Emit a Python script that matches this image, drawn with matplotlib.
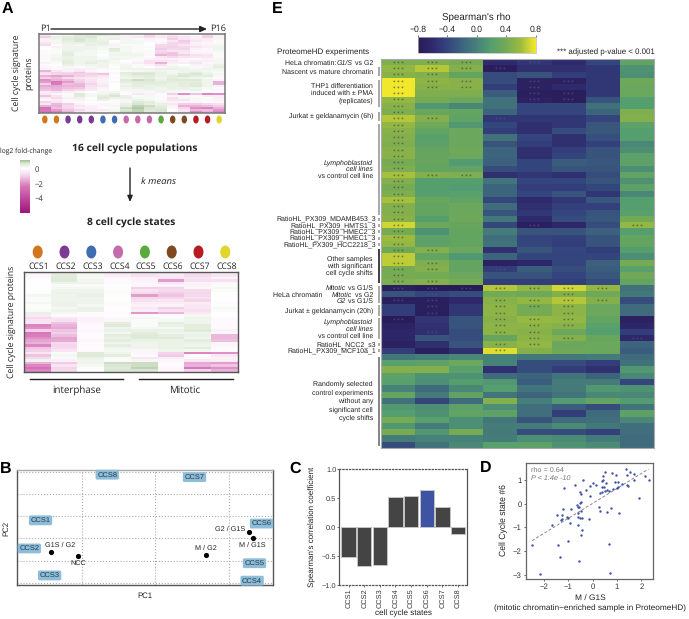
import numpy as np
import matplotlib
matplotlib.use("Agg")
import matplotlib.pyplot as plt
from matplotlib.colors import LinearSegmentedColormap, Normalize, TwoSlopeNorm
from matplotlib.cm import ScalarMappable
from matplotlib.patches import Ellipse, Rectangle

W, H = 689, 619
plt.rcParams['font.family'] = ['Liberation Sans', 'DejaVu Sans']
plt.rcParams['axes.unicode_minus'] = True
plt.rcParams['text.hinting'] = 'no_hinting'

# ---------- Panel A data ----------
population_states = ["CCS1","CCS1","CCS2","CCS2","CCS2","CCS3","CCS3","CCS4","CCS4","CCS4","CCS5","CCS6","CCS6","CCS7","CCS7","CCS8"]
state_names = ["CCS1","CCS2","CCS3","CCS4","CCS5","CCS6","CCS7","CCS8"]
state_colors = ["#d2761f","#7b3a93","#3f6db3","#c56aab","#5aaa3e","#7f4a1f","#b81b24","#e0d62c"]
populations_fc = [
[-.5,.1,.3,.6,.6,.6,.5,-.2,-.2,-.9,-.3,-.6,-.3,-.1,-.9,-.4],
[-1.0,.4,.5,.6,.7,.3,.3,-.4,-.6,-.8,-.5,-.8,-.5,-.3,-1.0,-.3],
[-.3,.3,.6,.7,.5,.3,.4,.2,.1,-.3,-.2,-1.0,-.6,-.4,-.4,.2],
[-.3,.2,.5,.7,.5,.4,.0,.2,.2,-.2,-.1,-.5,-1.1,-.6,-.4,-.1],
[-.6,-.3,.4,.4,.4,.5,.1,.2,.2,.0,-.3,-.8,-.9,-.3,-.2,.1],
[-.8,.1,.3,.2,.4,.4,-.3,.1,.1,.0,-.8,-.9,-.6,-.4,-.3,.2],
[0,-.3,.3,.3,.3,.2,.2,.2,.1,.1,-.9,-1.0,-.8,-.6,-.4,.3],
[0,.1,.3,.3,.3,.2,.6,.2,.1,.0,-1.1,-.8,-.9,-.3,-.2,.3],
[-.1,.1,.4,.3,.2,.1,.5,.2,.1,.1,-.8,-.6,-.6,-.2,-.2,.2],
[-.1,.1,.5,.2,.2,.1,.2,.3,.2,.1,-1.0,-1.2,-.5,-.3,-.3,.1],
[-.1,.2,.5,.2,.2,0,.3,.3,.3,-.2,-1.5,-1.2,-1.0,-.7,-.6,.1],
[.1,.2,.4,.3,.3,.1,.2,.2,.2,-.1,-.5,-.8,-.6,-.5,-.5,.1],
[.1,.3,.4,.3,.3,.2,.3,.2,.1,-.3,-.4,-.3,-.2,-.1,-.3,.2],
[-.1,.2,.5,.3,.4,.4,.2,0,-.2,-.7,-.6,-.5,-.2,-.4,-.4,.2],
[-.3,.1,.5,.3,.5,.3,.2,.1,-.4,-.7,-1.5,-.4,-.4,-.6,-.2,.2],
[-.1,0,.4,.2,.3,.3,.1,.2,-.1,-.3,-.7,-.2,0,-.3,-.3,.4],
[-.2,.1,.2,-.1,.2,.3,0,.3,.1,0,-.2,.3,.2,.1,.2,.5],
[-.3,-.1,-.3,-.4,-.3,-.2,.1,.3,.3,.3,.4,.4,.3,.2,.3,.3],
[-1.5,-.6,-.3,-.6,-.2,-.1,.0,.1,.2,.3,.3,.2,.3,.3,.2,.2],
[-.8,-1.0,-.8,-1.2,-.6,-.3,.1,.5,.6,.6,.4,.2,.3,.5,.3,.1],
[-.6,-.9,-1.0,-1.0,-1.0,-1.2,-.1,.5,.7,.7,.4,.3,.6,.7,.4,.2],
[-1.5,-1.7,-1.5,-1.0,-.8,-.6,0,.4,.5,.6,.4,.5,.7,.5,.5,-.2],
[-1.0,-1.3,-.8,-.6,-.5,-.4,-.1,.3,.4,.5,.3,.5,.4,.3,.2,-.1],
[-2.0,-1.5,-1.4,-.9,-.6,-.3,0,.6,.8,.7,.4,.6,.6,.6,.3,-.3],
[-1.8,-2.4,-1.8,-1.1,-.7,-.3,.1,.5,.6,.6,.5,.5,.5,.5,.3,-1.5],
[-1.0,-2.3,-1.3,-1.4,-.9,-.4,.0,.3,.5,.5,.5,.4,.5,.6,.3,-1.5],
[-1.6,-1.6,-1.5,-1.5,-.7,-.5,0,.4,.5,.4,.4,.4,.5,.6,.3,-.3],
[-1.4,-1.5,-1.3,-1.2,-.6,-.3,0,.3,.4,.4,.3,.4,.4,.3,.2,-.1],
[-1.2,-1.4,-1.0,-.8,-.5,-.2,0,.2,.2,.3,.3,.3,.3,.4,.1,-.2],
[-.4,-.7,-.4,-.2,.0,.2,.2,-.1,.2,-.2,.3,.2,-.1,.1,.1,0],
[-.5,-.2,.1,.6,.2,.3,.5,-.1,-.5,-.3,-.1,-1.0,-2.0,-1.2,-2.2,-2.0],
[-1.2,-.6,.1,.6,.2,.5,.7,.4,.1,.2,-.1,-.3,.2,-.1,.3,-.4],
[-.4,-.8,-.4,.3,.0,.6,.4,.4,.2,.1,-.1,-.7,.2,.2,.1,-.4],
[.1,-.4,-.2,-.3,.1,.4,.1,-.3,.4,.2,.1,-.6,-.6,-.2,-.2,-.3],
[-.9,-.6,-.2,-.1,.0,.0,-.1,.2,.6,.5,.2,-.3,-.2,-.2,0,-.2],
[-.5,-1.4,-1.0,-.3,-.1,-.2,.1,.4,.7,.5,.4,-.5,-1.0,-1.0,-.8,-.7],
[-1.5,-1.5,-.8,-.6,-.3,-.2,.2,.5,.9,.8,.5,-.3,-1.5,-1.5,-1.3,-1.0],
[-2.6,-1.3,-.9,-.4,-.4,-.1,.1,.8,1.0,.7,.6,-.2,-.9,-2.0,-2.2,-1.5],
[-2.4,-1.8,-1.2,-.9,-.4,-.4,.2,.7,.9,.6,.7,.0,-.5,-1.4,-1.3,-1.9],
[-2.6,-2.2,-1.5,-.6,-.5,-.2,.3,.8,.9,.6,.7,.1,-.7,-2.0,-1.5,-2.2],
]
states_fc = [
[-.3,.45,.35,-.4,-.5,-.5,-.8,-.3],[-.2,.55,.2,-.4,-.7,-.5,-.8,-.6],[-.1,.6,.15,-.2,-.3,-.5,-.6,-.2],
[0,.6,.25,-.1,-.3,-1.8,-.7,-.7],[0,.3,.3,-.1,-.2,-.5,-.3,-.2],[0,.1,.1,0,-.2,-.3,-.3,.1],
[0,.2,.2,0,-1.0,-.9,-.2,.2],[0,.3,.3,.05,-.6,-.8,-.8,.1],[0,.35,.35,.05,-.8,-1.0,-.9,0],
[.2,.3,.4,0,-1.8,-1.2,-.8,0],[.1,.3,.3,0,-.8,-.9,-.7,0],[.1,.3,.3,0,-.7,-.5,-.9,0],
[.2,.35,.3,-.05,-.4,-.4,-.4,.05],[.05,.35,.2,-.05,-.3,-.3,-.5,.05],[.05,.2,.35,0,-.5,-1.0,-.5,.15],
[.1,.3,.35,0,-.4,-.7,-.7,.1],[.4,.2,.05,-.05,-1.9,-1.4,-.5,0],[-.5,-.1,-.1,0,-.1,-.1,.2,0],
[-.8,-.5,-.3,-.1,.2,.1,.3,-.1],[-.6,-.7,-.3,-.2,.1,.2,.3,-.1],[-.5,-1.2,-.15,.5,.1,.5,.3,-.1],
[-2.2,-1.5,-.1,.6,.1,.4,.5,-.1],[-2.0,-1.6,-.1,.3,.2,.2,.5,-.1],[-1.0,-1.2,-.2,.4,.4,.4,.6,-.3],
[-2.4,-1.0,-.1,.2,.5,.3,.3,-.1],[-2.3,-1.3,-.1,.5,.6,.5,.4,-1.4],[-2.0,-1.7,-.1,.4,.6,.6,.3,-1.4],
[-1.7,-1.6,-.2,.5,.4,.4,.5,-1.3],[-1.5,-.8,-.1,.3,.3,.4,.4,-.2],[-2.2,-.9,-.1,.5,.3,.4,.3,-.2],
[-1.2,-.8,-.05,.3,.3,.4,.5,-.1],[-1.0,-.6,-.1,.2,-.2,.3,.2,-.1],[-.5,.1,.6,.3,-.2,-.9,-2.2,-2.0],
[-1.2,.2,.6,.5,-.1,-1.1,.0,-.5],[-.8,.1,.4,.1,-.5,-.4,.1,-.3],[.3,-.3,.3,.1,.2,-.2,-.5,-.4],
[-1.5,-1.1,.3,.8,.8,-.1,-1.6,-1.8],[-2.2,-.6,.2,.7,.8,-.1,-1.5,-1.2],[-2.6,-.9,.05,.6,.9,-.2,-2.4,-2.0],
[-2.2,-.8,0,.7,.7,-.2,-.9,-1.5],
]
fc_ticks = [0, -2, -4]
fc_scale_top = 1.25
fc_scale_bottom = -6

# ---------- Panel B data ----------
pca_states_x = [-.391,-.429,-.360,.329,.337,.361,.133,-.164]
pca_states_y = [.162,-.091,-.334,-.381,-.224,.133,.551,.573]
pca_samples = ["G1S / G2","NCC","M / G2","G2 / G1S","M / G1S"]
pca_samples_x = [-.356,-.262,.173,.319,.331]
pca_samples_y = [-.122,-.155,-.146,.060,.005]

# ---------- Panel C data ----------
state_rho = [-.51,-.68,-.65,.52,.53,.64,.35,-.12]

# ---------- Panel D data ----------
m_g1s = [-2.5,-2.16,-1.43,-1.36,-1.02,-.58,.69,.70,-1.69,-1.46,-1.27,-1.32,-1.28,-1.24,-1.17,-.93,-1.07,-1.0,-.74,-.91,-.41,-.6,-.48,-.45,-.59,-.52,-.45,-.66,-.6,-.52,-.48,-.55,-.49,-.59,-.52,-.47,-.29,-.15,-.11,-.11,.03,.12,.26,.29,.30,.37,.37,.37,.41,.44,.47,.55,.49,.6,.51,.58,.76,.65,.78,.96,.92,1.06,.82,.99,1.06,1.07,1.2,1.35,1.43,1.54,1.4,1.47,1.68,1.68,1.9,2.17,2.3]
ccs6_val = [-1.74,-2.95,-1.73,-2.26,-1.57,-2.42,-1.70,-2.91,-.88,-.48,-.48,-.69,-.63,-.22,.67,-.81,-.55,-.59,.77,-.22,1.0,-.9,-1.32,-1.10,-.55,-.62,-.62,-.06,-.13,.01,.08,-.13,-.31,-.41,.48,.39,.58,-.63,.31,.74,.86,.8,-.13,-.31,.46,.51,.7,.96,1.15,1.0,.7,.86,.53,.58,1.35,-.34,-.17,.53,1.28,1.21,.93,.9,.6,.65,.69,-.41,.81,1.46,1.21,1.32,.79,.74,1.25,.98,.22,1.18,.98]
fit_x = [-2.5, 2.3]
fit_y = [-1.56, 1.46]

# ---------- Panel E data ----------
rho_rows = [
[.45,.45,.42,-.6,-.5,-.6,-.4,.28],[.55,.65,.48,-.75,-.55,-.55,-.5,.12],[.5,.48,.3,-.35,-.3,-.45,-.5,.1],
[.8,.52,.5,-.35,-.7,-.7,-.5,.38],[.8,.5,.5,-.45,-.7,-.6,-.5,.35],[.8,.45,.45,-.25,-.72,-.75,-.5,.35],
[.55,.42,.36,-.1,-.7,-.75,-.3,.2],[.5,.15,.05,-.1,-.4,-.4,-.1,.2],[.45,.33,.3,-.2,-.4,-.4,-.2,.45],
[.65,.48,.28,-.5,-.5,-.5,-.4,.48],[.55,.38,.15,-.38,-.55,-.5,-.28,.25],[.5,.3,.35,-.45,-.55,-.35,-.28,.2],
[.48,.22,.35,-.1,-.4,-.55,-.33,.2],[.45,.25,.35,-.3,-.45,-.55,-.42,.05],[.5,.3,.38,-.2,-.55,-.45,-.3,.1],
[.5,.32,.35,-.2,-.55,-.4,-.3,.25],[.42,.32,.18,-.22,-.4,-.25,-.28,.25],[.45,.3,.28,-.35,-.4,-.3,-.3,.1],
[.62,.48,.45,-.55,-.5,-.55,-.35,.28],[.48,.2,.2,-.08,-.4,-.4,-.3,.12],[.42,.2,.18,-.2,-.45,-.45,-.38,.25],
[.45,.2,.22,-.2,-.4,-.3,-.5,.05],[.62,.33,.28,-.38,-.6,-.5,-.28,.2],[.48,.3,.35,-.15,-.55,-.42,-.42,.2],
[.48,.3,.35,-.3,-.5,-.4,-.3,.22],[.5,.2,.38,-.05,-.6,-.35,-.28,.4],[.72,.36,.32,-.38,-.72,-.62,-.35,.55],
[.42,.12,.3,-.02,-.3,-.3,-.22,.2],[.6,.25,.3,-.12,-.4,-.42,-.3,.3],[.55,.25,.3,-.1,-.38,-.45,-.3,.3],
[.38,.48,.35,-.55,-.3,-.38,-.45,.2],[.68,.3,.15,-.2,-.4,-.4,-.4,.1],[.68,.45,.3,-.7,-.65,-.4,-.22,.42],
[.42,.48,.3,-.45,-.25,-.35,-.25,.22],[.42,.4,.35,-.3,-.3,-.4,-.28,.38],[.45,.48,.42,-.45,-.45,-.45,-.35,.3],
[-.72,-.77,-.78,.65,.55,.72,.55,-.1],[-.3,-.4,-.35,.4,.38,.48,.38,-.05],[-.72,-.72,-.62,.5,.55,.65,.48,-.35],
[-.45,-.72,-.5,.52,.42,.52,.35,-.15],[-.45,-.72,-.5,.52,.42,.52,.35,-.15],[-.78,-.5,-.3,.5,.58,.55,.3,-.7],
[-.68,-.55,-.3,.52,.52,.5,.22,-.65],[-.65,-.55,-.35,.52,.5,.35,.2,-.45],[-.65,-.3,-.35,.32,.52,.48,.33,-.62],
[-.7,-.55,-.3,.5,.55,.35,.35,-.2],[-.45,-.72,-.55,.75,.48,.38,.35,-.25],[-.05,0,.05,.02,-.05,-.05,-.02,-.15],
[.22,.25,.35,.02,-.35,-.35,-.45,-.1],[.48,.48,.22,-.55,-.35,-.45,-.55,.15],[.25,.12,.12,-.15,-.2,-.08,-.2,.05],
[.22,.1,.2,.15,-.25,-.02,-.02,-.4],[.02,-.15,.05,.2,-.08,-.03,.15,.12],[.3,-.03,.28,-.08,-.2,-.08,.05,.05],
[-.1,-.4,-.15,.48,0,.18,.3,.18],[.15,.1,.25,.1,-.12,-.25,-.35,-.08],[.2,.12,.28,.25,-.12,-.45,-.15,.25],
[.42,.22,.1,-.05,-.3,-.15,-.12,.05],[.15,-.03,.1,-.02,-.02,.08,-.05,-.12],[.42,.15,.42,-.03,-.35,-.35,-.42,-.12],
[-.02,.02,.02,-.02,.1,.08,-.03,-.15],[-.35,-.1,.05,.22,.25,.12,.08,-.15],
]
# 1-based row numbers carrying the *** mark, one list per state
sig_ccs1 = list(range(1, 37)) + [37, 39, 42]
sig_ccs2 = [1,2,3,4,5,10,19,31,33,34,36,37,38,39,40,41,44]
sig_ccs3 = [1,2,4,5,19,37]
sig_ccs4 = [2,10,34,37,39,40,41,42,43,44,46,47]
sig_ccs5 = [1,4,5,6,7,27,37,39,40,42,43,44,45,46]
sig_ccs6 = [4,6,7,37,38,39,40,41,42,43,45]
sig_ccs7 = [37,39]
sig_ccs8 = [27,45]
sig_marks = [sig_ccs1,sig_ccs2,sig_ccs3,sig_ccs4,sig_ccs5,sig_ccs6,sig_ccs7,sig_ccs8]

# ---------- helpers (pixel layout) ----------
fig = plt.figure(figsize=(W/100, H/100), dpi=100, facecolor='white')
def AX(x0, y0, x1, y1, **kw):
    return fig.add_axes([x0/W, 1-y1/H, (x1-x0)/W, (y1-y0)/H], **kw)
def T(x, y, s, **kw):
    kw.setdefault('ha', 'center'); kw.setdefault('va', 'center')
    kw.setdefault('color', '#222222')
    return fig.text(x/W, 1-y/H, s, **kw)

overlay = AX(0, 0, W, H)
overlay.set_xlim(0, W); overlay.set_ylim(H, 0); overlay.axis('off')
OF = 'Open Sans'
for s, x, y in [("A",7,9),("B",6,469),("C",295,469),("D",486,468),("E",277,9)]:
    T(x, y, s, fontsize=11.5, fontweight='bold', color='black')

fc_cmap = LinearSegmentedColormap.from_list('fc', [(0,'#a0157a'),(.3,'#d878ba'),(.42,'#f4d4ea'),(.5,'#ffffff'),(.78,'#dbe7d4'),(1,'#8fb37e')])
fc_norm = TwoSlopeNorm(vmin=fc_scale_bottom, vcenter=0, vmax=fc_scale_top)

# ---------- Panel A ----------
ax = AX(39, 34, 225, 113)
ax.imshow(np.array(populations_fc), cmap=fc_cmap, norm=fc_norm, aspect='auto', interpolation='nearest')
ax.set_xticks([]); ax.set_yticks([])
for sp in ax.spines.values():
    sp.set_color('#777777'); sp.set_linewidth(1.1)
T(45, 29, "P1", fontsize=6.6, family=OF)
T(218, 29, "P16", fontsize=6.6, family=OF)
overlay.annotate("", xy=(207, 29), xytext=(51, 29),
                 arrowprops=dict(arrowstyle='-|>,head_width=.18,head_length=.4', color='#222222', lw=1, shrinkA=0, shrinkB=0))
for i, st in enumerate(population_states):
    overlay.add_patch(Ellipse((39+186*(i+.5)/16, 119.5), 5.5, 8, color=state_colors[state_names.index(st)], lw=0))
T(23, 73, "Cell cycle signature\nproteins", fontsize=6.2, rotation=90, family=OF, linespacing=1.35)
T(135, 149, "16 cell cycle populations", fontsize=7.5, fontweight='bold', family=OF)
T(131, 223, "8 cell cycle states", fontsize=7.4, fontweight='bold', family=OF)
T(141, 182, "k means", fontsize=6.8, style='italic', ha='left', family=OF)
overlay.annotate("", xy=(130, 202), xytext=(130, 168),
                 arrowprops=dict(arrowstyle='-|>,head_width=.15,head_length=.35', color='#222222', lw=1, shrinkA=0, shrinkB=0))
T(26, 151, "log2 fold-change", fontsize=4.9, family=OF)
cax = AX(20, 160, 30, 213)
scale_levels = np.linspace(fc_scale_top, fc_scale_bottom, 200)[:, None]
cax.imshow(scale_levels, cmap=fc_cmap, norm=fc_norm, aspect='auto', extent=[0, 1, fc_scale_bottom, fc_scale_top])
cax.set_xticks([]); cax.yaxis.tick_right()
cax.set_yticks(fc_ticks); cax.set_yticklabels(["0", "\u22122", "\u22124"], family=OF)
cax.tick_params(axis='y', length=0, labelsize=5.6, pad=3, labelcolor='#333333')
for sp in cax.spines.values():
    sp.set_visible(False)

ax = AX(24, 272, 238, 372)
ax.imshow(np.array(states_fc), cmap=fc_cmap, norm=fc_norm, aspect='auto', interpolation='nearest')
ax.set_xticks([]); ax.set_yticks([])
for sp in ax.spines.values():
    sp.set_color('#555555'); sp.set_linewidth(1.0)
for i, (n, c) in enumerate(zip(state_names, state_colors)):
    x = 37.7 + 26.8*i
    overlay.add_patch(Ellipse((x, 252), 10, 13, color=c, lw=0))
    T(x+1.3, 266.5, n, fontsize=6.2, family=OF)
T(12, 322, "Cell cycle signature proteins", fontsize=6.2, rotation=90, family=OF)
overlay.plot([30, 123], [379, 379], color='#222222', lw=1)
overlay.plot([139, 233], [379, 379], color='#222222', lw=1)
T(77, 390, "interphase", fontsize=7, family=OF)
T(185, 390, "Mitotic", fontsize=7, family=OF)

# ---------- Panel B ----------
ax = AX(17, 470, 273, 585)
ax.set_xlim(-.471, .40); ax.set_ylim(-.42, .615)
ax.set_xticks([-.25, 0, .25]); ax.set_yticks([-.4, -.2, 0, .2, .4, .6])
ax.tick_params(length=0, labelbottom=False, labelleft=False)
ax.grid(True, color='#aaaaaa', ls=':', lw=.8)
ax.set_axisbelow(True)
for sp in ax.spines.values():
    sp.set_color('#555555'); sp.set_linewidth(1.0)
ax.spines['top'].set_color('#aaaaaa')
ax.scatter(pca_samples_x, pca_samples_y, s=14, color='black', zorder=3, lw=0)
for n, x, y in zip(state_names, pca_states_x, pca_states_y):
    ax.text(x, y, n, fontsize=5.4, ha='center', va='center', color='#233746', zorder=4, clip_on=False,
            bbox=dict(boxstyle='round,pad=.22,rounding_size=.2', fc='#8dbdd8', ec='none'))
sample_offsets = [(9.7,7),(0,-7.3),(0,6.3),(-18.7,3),(0,-7.3)]
for n, x, y, off in zip(pca_samples, pca_samples_x, pca_samples_y, sample_offsets):
    ax.annotate(n, (x, y), xytext=(off[0]*.72, off[1]*.72), textcoords='offset points', fontsize=5.2,
                ha='center', va='center', color='#222222', zorder=4)
T(145, 596, "PC1", fontsize=5.6); T(6, 528, "PC2", fontsize=5.6, rotation=90)

# ---------- Panel C ----------
ax = AX(339.3, 469.3, 467.3, 585)
pos = np.arange(len(state_rho))
cols = ['#444444']*len(state_rho); cols[5] = '#3f53a5'
ax.bar(pos, state_rho, width=.92, color=cols, edgecolor='#c4c4c4', lw=.7, zorder=3)
ax.set_xlim(-.6, 7.6); ax.set_ylim(-1, 1)
ax.set_yticks([-1, -.5, 0, .5, 1]); ax.set_yticklabels(["\u22121.0","\u22120.5","0.0","0.5","1.0"])
ax.set_xticks(pos); ax.set_xticklabels(state_names, rotation=90)
ax.tick_params(labelsize=5.3, length=1.2, width=.6, pad=1, color='#555555', labelcolor='#333333')
for sp in ax.spines.values():
    sp.set_color('#555555'); sp.set_linewidth(.9)
ax.spines['top'].set_linestyle(':'); ax.spines['bottom'].set_linestyle(':')
T(312.5, 527, "Spearman's correlation coefficient", fontsize=5.8, rotation=90)
T(403, 613.5, "cell cycle states", fontsize=5.9)

# ---------- Panel D ----------
ax = AX(526, 463.3, 652.7, 579.3)
ax.scatter(m_g1s, ccs6_val, s=3, color='#3f53a5', lw=0, zorder=3)
ax.plot(fit_x, fit_y, color='#888888', lw=.7, ls=(0, (3, 2)), zorder=2)
ax.set_xlim(-2.75, 2.47); ax.set_ylim(-3.19, 1.70)
ax.set_xticks([-2,-1,0,1,2]); ax.set_xticklabels(["\u22122","\u22121","0","1","2"])
ax.set_yticks([-3,-2,-1,0,1]); ax.set_yticklabels(["\u22123","\u22122","\u22121","0","1"])
ax.tick_params(labelsize=5.6, length=1.5, width=.6, pad=1.5, color='#555555', labelcolor='#333333')
for sp in ax.spines.values():
    sp.set_color('#666666'); sp.set_linewidth(.9)
T(530.7, 470, "rho = 0.64", fontsize=5.2, ha='left', color='#777777')
T(530.7, 478.5, "P < 1.4e -10", fontsize=5.2, ha='left', style='italic', color='#777777')
T(590, 598, "M / G1S", fontsize=6.0)
T(590, 608, "(mitotic chromatin\u2212enriched sample in ProteomeHD)", fontsize=5.95)
T(504, 520, "Cell Cycle state #6", fontsize=6.2, rotation=90)

# ---------- Panel E ----------
rho_cmap = LinearSegmentedColormap.from_list('rho', [(0,'#2a1a57'),(.125,'#2f2a6e'),(.25,'#34447d'),(.4,'#3f6a7e'),(.5,'#467f7a'),
                                                     (.625,'#559f6f'),(.75,'#73aa56'),(.875,'#9cbb3f'),(1,'#f2e82b')])
rho_norm = Normalize(-.8, .8)
ax = AX(381, 59, 654, 448)
ax.imshow(np.array(rho_rows), cmap=rho_cmap, norm=rho_norm, aspect='auto', interpolation='nearest')
ax.set_xticks([]); ax.set_yticks([])
for sp in ax.spines.values():
    sp.set_color('#aaaaaa'); sp.set_linewidth(.8)
for j, rows in enumerate(sig_marks):
    for r in rows:
        light = rho_rows[r-1][j] > 0
        ax.text(j, r-1+.2, "* * *", fontsize=3.6, family='DejaVu Sans', ha='center', va='center',
                color='#454545' if light else '#54547c')

cax = AX(417.7, 37.3, 535.5, 52.7)
cb = fig.colorbar(ScalarMappable(norm=rho_norm, cmap=rho_cmap), cax=cax, orientation='horizontal')
cb.set_ticks([-.8,-.4,0,.4,.8]); cb.set_ticklabels(["\u22120.8","\u22120.4","0.0","0.4","0.8"])
cb.ax.xaxis.set_ticks_position('top')
cb.ax.tick_params(labelsize=6.2, length=1.5, width=.6, pad=1, labelcolor='#222222', color='#555555')
cb.outline.set_edgecolor('#bbbbbb'); cb.outline.set_linewidth(.5)
T(476.7, 17, "Spearman's rho", fontsize=7)
T(277, 52.7, "ProteomeHD experiments", fontsize=5.8, ha='left')
T(655, 52.7, "*** adjusted p-value < 0.001", fontsize=5.7, ha='right')

LS = 5.0
def R(y, s, x=373, **kw):
    T(x, y, s, fontsize=LS, ha='right', **kw)
R(63.3, "HeLa chromatin:", x=336.7); R(63.3, "G1/S", x=352.7, style='italic'); R(63.3, "vs G2")
R(72.3, "Nascent vs mature chromatin")
R(86, "THP1 differentiation"); R(93.3, "induced with \u00b1 PMA"); R(100.7, "(replicates)")
R(116, "Jurkat \u00b1 geldanamycin (6h)")
R(162.7, "Lymphoblastoid", style='italic'); R(169.3, "cell lines", style='italic'); R(176.3, "vs control cell line")
for y, s in [(219,"RatioHL_PX309_MDAMB453_3"),(225.7,"RatioHL_PX309_HMTS1_3"),(231.3,"RatioHL_PX309_HMEC2_3"),
             (238,"RatioHL_PX309_HMEC1_3"),(244.3,"RatioHL_PX309_HCC2218_3"),(344.3,"RatioHL_NCC2_s3"),(350.7,"RatioHL_PX309_MCF10a_1")]:
    R(y, s, x=376)
R(258.7, "Other samples"); R(265.7, "with significant"); R(272.3, "cell cycle shifts")
R(288.3, "Mitotic", x=345.7, style='italic'); R(288.3, "vs G1/S")
R(294.7, "Mitotic", x=351.7, style='italic'); R(294.7, "vs G2")
R(300.7, "G2", x=345.7, style='italic'); R(300.7, "vs G1/S")
T(272.7, 294.7, "HeLa chromatin", fontsize=LS, ha='left')
R(310.3, "Jurkat \u00b1 geldanamycin (20h)")
R(321.7, "Lymphoblastoid", style='italic'); R(328.7, "cell lines", style='italic'); R(335.7, "vs control cell line")
for y, s in [(383.7,"Randomly selected"),(392.3,"control experiments"),(400.7,"without any"),(409.3,"significant cell"),(418,"cycle shifts")]:
    R(y, s)

for y0, y1, c in [(66.7,76,'#aaaaaa'),(80,106.7,'#aaaaaa'),(111.7,120.7,'#aaaaaa'),(124,215,'#aaaaaa'),
                  (217.5,220.5,'#aaaaaa'),(224,227,'#aaaaaa'),(230,233,'#aaaaaa'),(236.5,239.5,'#aaaaaa'),(243,246,'#aaaaaa'),
                  (249,283,'#444444'),(286,303,'#aaaaaa'),(305,316,'#aaaaaa'),(317.7,339.3,'#aaaaaa'),
                  (342.5,345.5,'#aaaaaa'),(349,352,'#aaaaaa'),(356.7,446,'#888888')]:
    overlay.add_patch(Rectangle((378.2, y0), 1.6, y1-y0, color=c, lw=0))

fig.savefig('out.png', dpi=100)
